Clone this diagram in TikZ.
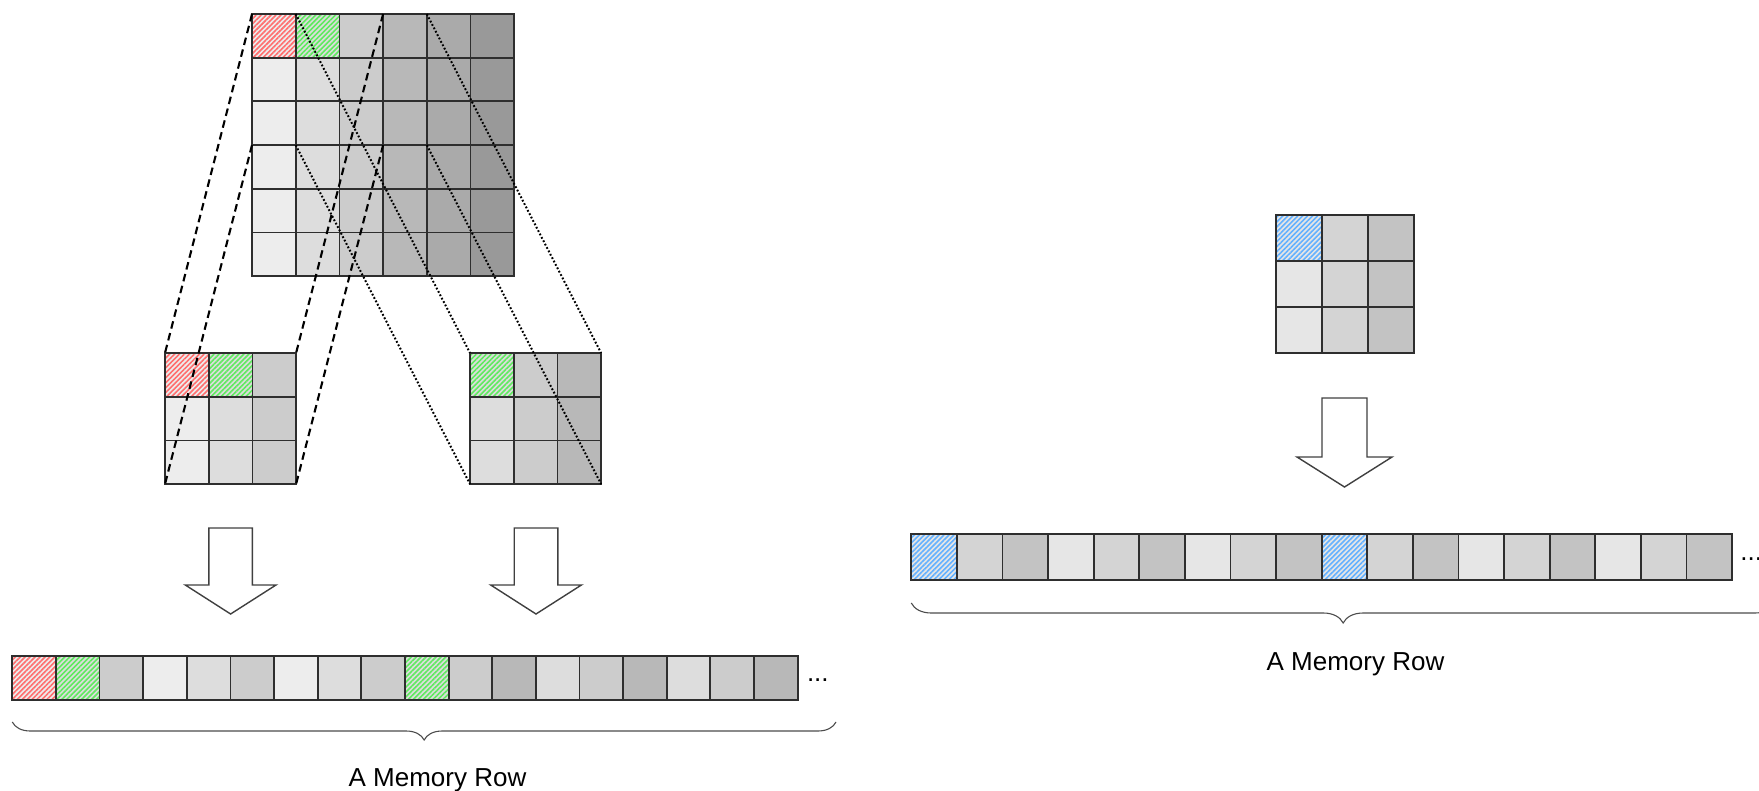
\documentclass[tikz,border=0pt]{standalone}
\usepackage{fontspec}
\setmainfont{Liberation Sans}
\usetikzlibrary{patterns.meta,decorations.pathreplacing}
\definecolor{cA}{HTML}{EDEDED}
\definecolor{cB}{HTML}{DDDDDD}
\definecolor{cC}{HTML}{CCCCCC}
\definecolor{cD}{HTML}{B8B8B8}
\definecolor{cE}{HTML}{AAAAAA}
\definecolor{cF}{HTML}{999999}
\definecolor{rA}{HTML}{E6E6E6}
\definecolor{rB}{HTML}{D4D4D4}
\definecolor{rC}{HTML}{C3C3C3}
\definecolor{hatchred}{HTML}{FF6E6E}
\definecolor{hatchgreen}{HTML}{5FEA5F}
\definecolor{hatchblue}{HTML}{63B1FF}
\definecolor{edge}{HTML}{2E2E2E}
\tikzset{
  cellline/.style={draw=edge, line width=0.9pt},
  gA/.style={fill=cA}, gB/.style={fill=cB}, gC/.style={fill=cC},
  gD/.style={fill=cD}, gE/.style={fill=cE}, gF/.style={fill=cF},
  qA/.style={fill=rA}, qB/.style={fill=rB}, qC/.style={fill=rC},
  stripes/.style={pattern={Lines[angle=45,distance=1.75pt,line width=0.8pt]}},
  hR/.style={preaction={fill=cA}, stripes, pattern color=hatchred},
  hG/.style={preaction={fill=cB}, stripes, pattern color=hatchgreen},
  hBl/.style={preaction={fill=rA}, stripes, pattern color=hatchblue},
  dashedlink/.style={line width=1.05pt, dash pattern=on 3.8pt off 2.3pt},
  dottedlink/.style={line width=1pt, dash pattern=on 0.9pt off 1pt},
  blockarrow/.style={draw=black!75, line width=0.7pt, fill=white, line join=miter},
  rowbrace/.style={decorate, decoration={brace, mirror, amplitude=#1}, draw=black!70, line width=0.55pt},
  memlabel/.style={font=\fontsize{13}{15}\selectfont, inner sep=0pt, anchor=base}
}
\begin{document}
\begin{tikzpicture}[x=0.5pt,y=-0.5pt]
\useasboundingbox (0,0) rectangle (1759,791);

% ---------- big 6x6 grid ----------
\foreach \c/\col in {0/gA,1/gB,2/gC,3/gD,4/gE,5/gF}
  \foreach \r in {0,...,5}
    \path[cellline,\col] ({252+\c*43.7},{14+\r*43.7}) rectangle ++(43.7,43.7);
\path[cellline,hR] (252,14) rectangle ++(43.7,43.7);
\path[cellline,hG] (295.7,14) rectangle ++(43.7,43.7);
\foreach \c in {0,...,6}
  \foreach \r in {0,...,6}
    \coordinate (B-\c-\r) at ({252+\c*43.7},{14+\r*43.7});

% ---------- left small 3x3 grid ----------
\foreach \c/\col in {0/gA,1/gB,2/gC}
  \foreach \r in {0,...,2}
    \path[cellline,\col] ({165+\c*43.7},{353+\r*43.7}) rectangle ++(43.7,43.7);
\path[cellline,hR] (165,353) rectangle ++(43.7,43.7);
\path[cellline,hG] (208.7,353) rectangle ++(43.7,43.7);
\foreach \c in {0,...,3}
  \foreach \r in {0,...,3}
    \coordinate (L-\c-\r) at ({165+\c*43.7},{353+\r*43.7});

% ---------- right small 3x3 grid ----------
\foreach \c/\col in {0/gB,1/gC,2/gD}
  \foreach \r in {0,...,2}
    \path[cellline,\col] ({470+\c*43.7},{353+\r*43.7}) rectangle ++(43.7,43.7);
\path[cellline,hG] (470,353) rectangle ++(43.7,43.7);
\foreach \c in {0,...,3}
  \foreach \r in {0,...,3}
    \coordinate (R-\c-\r) at ({470+\c*43.7},{353+\r*43.7});

% ---------- projection lines ----------
\draw[dashedlink] (B-0-0) -- (L-0-0);
\draw[dashedlink] (B-0-3) -- (L-0-3);
\draw[dashedlink] (B-3-0) -- (L-3-0);
\draw[dashedlink] (B-3-3) -- (L-3-3);
\draw[dottedlink] (B-1-0) -- (R-0-0);
\draw[dottedlink] (B-1-3) -- (R-0-3);
\draw[dottedlink] (B-4-0) -- (R-3-0);
\draw[dottedlink] (B-4-3) -- (R-3-3);

% ---------- left block arrows ----------
\draw[blockarrow] (208.8,528) -- (252.4,528) -- (252.4,585) -- (276,585) -- (230.6,614) -- (185.3,585) -- (208.8,585) -- cycle;
\draw[blockarrow] (514.2,528) -- (557.8,528) -- (557.8,585) -- (581.4,585) -- (536,614) -- (490.7,585) -- (514.2,585) -- cycle;

% ---------- left memory row ----------
\foreach \s [count=\i from 0] in {hR,hG,gC,gA,gB,gC,gA,gB,gC,hG,gC,gD,gB,gC,gD,gB,gC,gD}
  \path[cellline,\s] ({12.3+\i*43.63},655.7) rectangle ++(43.63,44.3);
\node[memlabel, anchor=base west] (dotsL) at (806.6,681) {...};
\coordinate (MLa) at (12.3,722);
\coordinate (MLb) at (836,722);
\draw[rowbrace=9pt] (MLa) -- (MLb);
\node[memlabel] (labL) at (437.5,786) {A Memory Row};

% ---------- right 3x3 grid ----------
\foreach \c/\col in {0/qA,1/qB,2/qC}
  \foreach \r in {0,...,2}
    \path[cellline,\col] ({1276+\c*46},{215+\r*46}) rectangle ++(46,46);
\path[cellline,hBl] (1276,215) rectangle ++(46,46);

% ---------- right block arrow ----------
\draw[blockarrow] (1322,398) -- (1367,398) -- (1367,457) -- (1392,457) -- (1344.5,487) -- (1297,457) -- (1322,457) -- cycle;

% ---------- right memory row ----------
\foreach \s [count=\i from 0] in {hBl,qB,qC,qA,qB,qC,qA,qB,qC,hBl,qB,qC,qA,qB,qC,qA,qB,qC}
  \path[cellline,\s] ({911.3+\i*45.6},534) rectangle ++(45.6,46.3);
\node[memlabel, anchor=base west] (dotsR) at (1740,560) {...};
\coordinate (MRa) at (911.3,603);
\coordinate (MRb) at (1775,603);
\draw[rowbrace=10pt] (MRa) -- (MRb);
\node[memlabel] (labR) at (1355.5,670) {A Memory Row};
\end{tikzpicture}
\end{document}
